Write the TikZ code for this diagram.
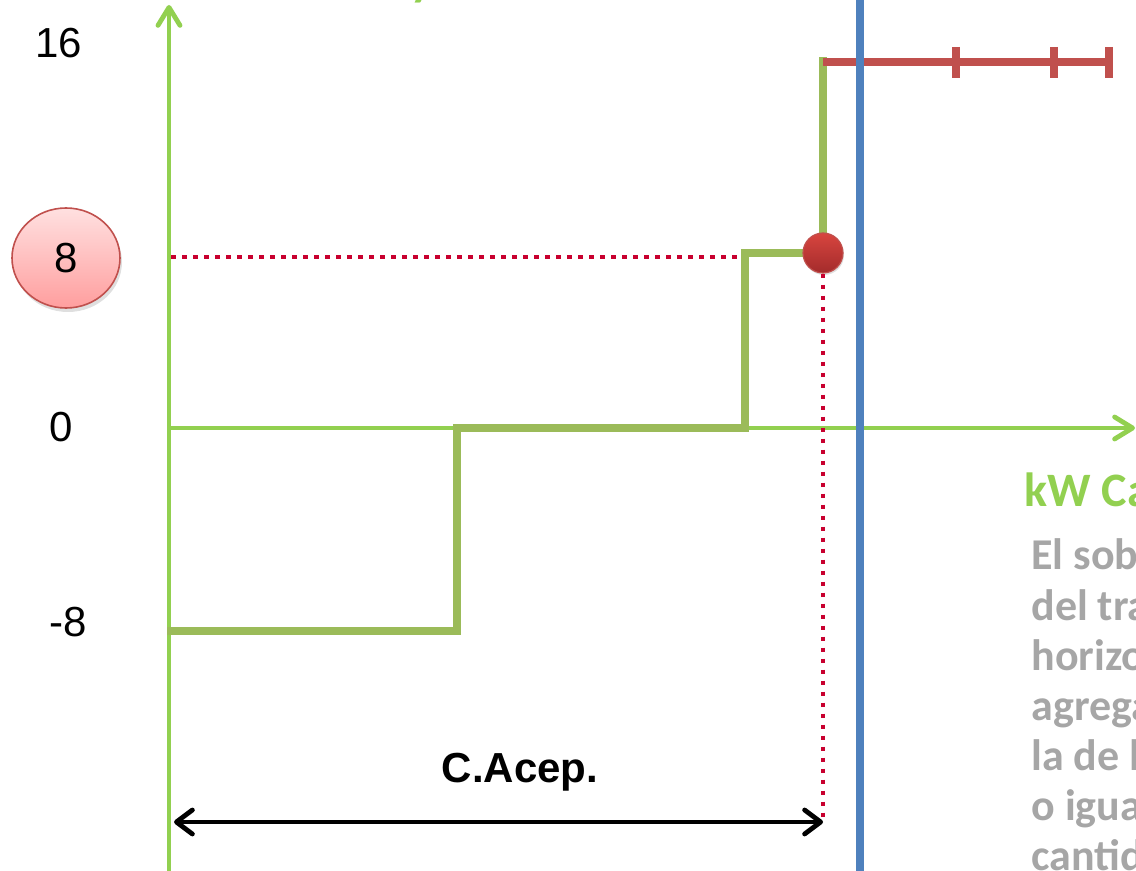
\documentclass[tikz,border=0pt]{standalone}
\usepackage{fontspec}
\setmainfont{Liberation Sans}
\newfontfamily\carlito{Carlito}
\usetikzlibrary{arrows.meta,shapes.geometric,shadows}
\definecolor{axisgreen}{HTML}{92D050}
\definecolor{offergreen}{HTML}{9BBB59}
\definecolor{supplyred}{HTML}{C0504D}
\definecolor{guidered}{HTML}{C8002F}
\definecolor{limitblue}{HTML}{4F81BD}
\definecolor{notegray}{HTML}{A6A6A6}
\definecolor{balltop}{HTML}{D8453F}
\definecolor{ballbottom}{HTML}{A32B2B}

\begin{document}
\begin{tikzpicture}[x=0.5pt,y=-0.5pt,
        axisline/.style={axisgreen,line width=2.4pt,-{Straight Barb[length=9pt,width=11pt,round]}},
        offer/.style={offergreen,line width=4.2pt,line cap=rect},
        supply/.style={supplyred,line width=4pt},
        guide/.style={guidered,line width=2.3pt,dash pattern=on 2.3pt off 3.2pt},
        value/.style={font=\fontsize{21}{25}\selectfont,inner sep=0pt},
        note/.style={notegray,font=\carlito\bfseries\fontsize{22}{25}\selectfont,inner sep=0pt,anchor=base west}]

    \useasboundingbox (0,0) rectangle (1136,871);
    \clip (0,0) rectangle (1136,871);

    \coordinate (O) at (169,428);
    \coordinate (ybottom) at (169,880);
    \coordinate (ytop) at (169,5);
    \coordinate (xend) at (1135,428);

    \node[value] (v16) at (59,43) {16};
    \node[value,ellipse,minimum width=54pt,minimum height=50pt,draw=supplyred,line width=0.8pt,
          top color=red!12,bottom color=red!38,drop shadow={opacity=0.25,shadow xshift=1pt,shadow yshift=-2pt}]
          (v8) at (66,258) {8};
    \node[value] (v0) at (61,427) {0};
    \node[value] (vm8) at (68,622) {-8};

    \draw[axisline] (ybottom) -- (ytop);
    \draw[axisline] (O) -- (xend);

    \draw[offer] (171,631) -- (457,631) -- (457,428) -- (745,428) -- (745,253) -- (823,253) -- (823,61);
    \draw[supply] (823,62) -- (1110,62);
    \foreach \t in {956,1054,1109}
        \draw[supply] (\t,47) -- (\t,78);

    \node[circle,minimum size=20pt,inner sep=0pt,draw=supplyred,line width=0.6pt,
          top color=balltop,bottom color=ballbottom,
          drop shadow={opacity=0.25,shadow xshift=0.5pt,shadow yshift=-1pt}] (pt) at (823,253) {};

    \coordinate (q8) at (171,257);
    \coordinate (q8end) at (740,257);
    \coordinate (cl) at (174,822);
    \coordinate (cr) at (823,822);

    \draw[guide] (q8) -- (q8end);
    \draw[guide] (pt.south) -- (cr);

    \draw[limitblue,line width=3.8pt] (860,0) -- (860,871);

    \draw[black,line width=2.4pt,{Straight Barb[length=8pt,width=12pt,round]}-{Straight Barb[length=8pt,width=12pt,round]}] (cl) -- (cr);
    \node[font=\bfseries\fontsize{21}{25}\selectfont,inner sep=0pt] (cacep) at (520,772) {C.Acep.};

    \node[axisgreen,font=\carlito\bfseries\fontsize{24}{28}\selectfont,inner sep=0pt,anchor=base west] (title) at (410,-4) {y};
    \node[axisgreen,font=\carlito\bfseries\fontsize{24}{28}\selectfont,inner sep=0pt,anchor=base west] (xlabel) at (1024,507) {kW Ca};
    \foreach \w [count=\i] in {El sob,del tra,horizo,agrega,la de l,o igua,cantid}
        \node[note] (note\i) at (1031,520+50*\i) {\w};
\end{tikzpicture}
\end{document}
